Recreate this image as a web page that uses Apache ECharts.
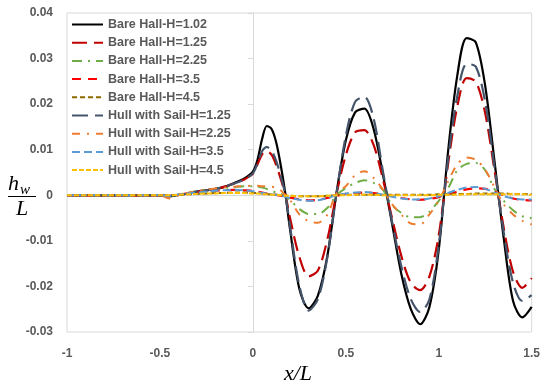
<!DOCTYPE html>
<html><head><meta charset="utf-8">
<script src="https://cdn.jsdelivr.net/npm/echarts@6/dist/echarts.min.js"></script>
<style>html,body{margin:0;padding:0;background:#fff}#c{width:543px;height:385px}</style>
</head><body><div id="c"></div>
<script>
// shared x/L positions
const X = [-1, -0.9, -0.8, -0.7, -0.6, -0.5,
  -0.45, -0.4, -0.35, -0.3, -0.25, -0.2, -0.15, -0.1, -0.05,
  0, 0.025, 0.05, 0.075, 0.1, 0.125, 0.15, 0.175, 0.2,
  0.25, 0.3, 0.35, 0.4, 0.45, 0.5, 0.55, 0.6, 0.65, 0.7, 0.75, 0.8, 0.85, 0.9, 0.95, 1.0,
  1.05, 1.1, 1.15, 1.2, 1.25, 1.3, 1.35, 1.4, 1.45, 1.5];

const bare102 = [0,0,0,0,0,0,
  -0.0002,0.0001,0.0004,0.0008,0.0011,0.0014,0.0019,0.0027,0.0036,
  0.0052,0.0078,0.0124,0.0152,0.0146,0.0117,0.0066,0.0003,-0.0075,
  -0.0205,-0.0248,-0.022,-0.0135,0.0005,0.012,0.0182,0.019,0.0145,0.0045,-0.0065,-0.0175,-0.025,-0.0283,-0.0245,-0.012,
  0.0095,0.0263,0.0345,0.0335,0.024,0.0075,-0.0095,-0.0232,-0.0268,-0.0245];
const bare125 = [0,0,0,0,0,0,
  -0.0002,0.0001,0.0004,0.0008,0.0011,0.0014,0.0019,0.0026,0.0034,
  0.0047,0.0068,0.009,0.0097,0.0089,0.0067,0.0036,0.0001,-0.005,
  -0.0135,-0.0178,-0.0165,-0.0098,0.0003,0.0088,0.0138,0.0143,0.011,0.0035,-0.0052,-0.0135,-0.0192,-0.0208,-0.0178,-0.0088,
  0.0068,0.0195,0.0257,0.0249,0.018,0.0055,-0.0072,-0.0168,-0.0203,-0.0182];
const bare225 = [0,0,0,0,0,0,
  -0.0002,0.0002,0.0005,0.0009,0.0012,0.0014,0.0016,0.0018,0.002,
  0.002,0.0019,0.0017,0.0014,0.001,0.0006,0.0003,-0.0001,-0.001,
  -0.003,-0.0041,-0.0041,-0.0028,0.0,0.0016,0.0027,0.0033,0.0027,0.0012,-0.0022,-0.0039,-0.0048,-0.0048,-0.0036,-0.0012,
  0.0015,0.0055,0.0069,0.0071,0.0055,0.0014,-0.0012,-0.0033,-0.0046,-0.005];
const bare35 = [0,0,0,0,0,0,
  -0.0001,0.0002,0.0004,0.0006,0.0008,0.001,0.0011,0.0012,0.0011,
  0.001,0.0008,0.0006,0.0004,0.0002,0.0001,-0.0001,-0.0003,-0.0005,
  -0.0009,-0.0011,-0.001,-0.0006,-0.0001,0.0003,0.0005,0.0006,0.0005,0.0002,-0.0002,-0.0006,-0.0009,-0.001,-0.0008,-0.0004,
  0.0002,0.0008,0.0013,0.0015,0.0014,0.0008,0.0,-0.0007,-0.001,-0.0011];
const bare45 = [0,0,0,0,0,0,
  0,0.0001,0.0002,0.0003,0.0004,0.0005,0.0005,0.0006,0.0006,
  0.0005,0.0005,0.0004,0.0003,0.0002,0.0001,0.0,-0.0001,-0.0001,
  -0.0002,-0.0002,-0.0002,-0.0001,0,0.0001,0.0001,0.0001,0.0001,0.0001,0.0001,0.0001,0.0001,0.0001,0.0001,0.0002,
  0.0002,0.0003,0.0003,0.0004,0.0004,0.0004,0.0004,0.0003,0.0003,0.0003];
const hull125 = [0,0,0,0,0,0,
  -0.0002,0.0001,0.0004,0.0008,0.0011,0.0014,0.0019,0.0026,0.0034,
  0.0048,0.007,0.0097,0.0106,0.0098,0.0076,0.0042,0.0001,-0.0068,
  -0.0198,-0.0253,-0.0228,-0.0138,0.0004,0.013,0.0205,0.0216,0.0168,0.0052,-0.006,-0.0158,-0.0228,-0.0256,-0.0228,-0.011,
  0.0078,0.0218,0.0288,0.0282,0.0205,0.0062,-0.0082,-0.0192,-0.0232,-0.0219];
const hull225 = [0,0,0,0,0,0,
  -0.0007,0.0,0.0005,0.0009,0.0012,0.0015,0.0017,0.0019,0.002,
  0.0021,0.0021,0.002,0.002,0.0019,0.0017,0.0011,0.0,-0.001,
  -0.0042,-0.0057,-0.006,-0.0043,0.0004,0.002,0.0044,0.0053,0.0038,0.0012,-0.002,-0.0043,-0.0062,-0.0064,-0.0042,-0.0012,
  0.003,0.0068,0.0083,0.0078,0.0056,0.0018,-0.002,-0.0042,-0.0056,-0.0064];
const hull35 = [0,0,0,0,0,0,
  -0.0001,0.0002,0.0004,0.0006,0.0008,0.001,0.0011,0.0012,0.0011,
  0.0009,0.0007,0.0005,0.0004,0.0002,0.0001,-0.0001,-0.0003,-0.0006,
  -0.001,-0.0012,-0.0011,-0.0006,0.0,0.0004,0.0006,0.0007,0.0005,0.0001,-0.0003,-0.0007,-0.0009,-0.0009,-0.0007,-0.0002,
  0.0005,0.0012,0.0017,0.0018,0.0014,0.0006,-0.0002,-0.0007,-0.0009,-0.0009];
const hull45 = [0,0,0,0,0,0,
  0,0.0001,0.0002,0.0003,0.0004,0.0004,0.0005,0.0005,0.0005,
  0.0004,0.0004,0.0003,0.0002,0.0001,0.0001,0,-0.0001,-0.0001,
  -0.0002,-0.0002,-0.0002,-0.0001,0,0,0.0001,0.0001,0.0001,0,0,0,0,0,0,0.0001,
  0.0001,0.0001,0.0002,0.0002,0.0002,0.0002,0.0002,0.0002,0.0002,0.0001];

const seriesNames = ['Bare Hall-H=1.02','Bare Hall-H=1.25','Bare Hall-H=2.25','Bare Hall-H=3.5','Bare Hall-H=4.5',
  'Hull with Sail-H=1.25','Hull with Sail-H=2.25','Hull with Sail-H=3.5','Hull with Sail-H=4.5'];
const seriesValues = [bare102, bare125, bare225, bare35, bare45, hull125, hull225, hull35, hull45];
const xTicks = [-1, -0.5, 0, 0.5, 1, 1.5];
const yTicks = [-0.03, -0.02, -0.01, 0, 0.01, 0.02, 0.03, 0.04];

const styles = [
  {color:'#000000', type:'solid', width:2.2},
  {color:'#C00000', type:[15,7], width:2.2},
  {color:'#70AD47', type:[10,6,2,6], width:2},
  {color:'#FF0000', type:[9,7], width:2.2},
  {color:'#8C6A00', type:[5,3], width:2},
  {color:'#44546A', type:[16,7], width:2.2},
  {color:'#ED7D31', type:[8,7,2,7], width:2},
  {color:'#5B9BD5', type:[8,4], width:2},
  {color:'#FFC000', type:[5,2], width:2}
];

const lbl = {color:'#595959', fontWeight:'bold', fontSize:12, fontFamily:'Liberation Sans'};

const chart = echarts.init(document.getElementById('c'), null, {renderer:'canvas'});
chart.setOption({
  animation:false,
  backgroundColor:'#fff',
  grid:{left:67, right:10, top:13, bottom:53, show:true, borderColor:'#d9d9d9', borderWidth:1, backgroundColor:'transparent'},
  legend:{
    orient:'vertical', left:71, top:18, padding:0, itemWidth:31, itemHeight:12, itemGap:5.2,
    itemStyle:{opacity:0},
    textStyle:Object.assign({}, lbl, {fontSize:12.5}),
    data:seriesNames
  },
  xAxis:[
    {type:'value', min:xTicks[0], max:xTicks[xTicks.length-1], interval:0.5, position:'bottom',
      axisLine:{show:false, onZero:false}, axisTick:{show:false}, splitLine:{show:false},
      axisLabel:Object.assign({margin:16, formatter:v=>String(v)}, lbl)},
    {type:'value', min:xTicks[0], max:xTicks[xTicks.length-1], interval:0.5, position:'bottom',
      axisLine:{show:true, onZero:true, lineStyle:{color:'#d9d9d9', width:1}}, axisTick:{show:false},
      splitLine:{show:false}, axisLabel:{show:false}}
  ],
  yAxis:[
    {type:'value', min:yTicks[0], max:yTicks[yTicks.length-1], interval:0.01, position:'left',
      axisLine:{show:false, onZero:false}, axisTick:{show:false}, splitLine:{show:false},
      axisLabel:Object.assign({margin:14, formatter:v=>String(Math.round(v*100)/100)}, lbl)},
    {type:'value', min:yTicks[0], max:yTicks[yTicks.length-1], interval:0.01, position:'left',
      axisLine:{show:true, onZero:true, lineStyle:{color:'#d9d9d9', width:1}},
      axisTick:{show:true, length:5, lineStyle:{color:'#d9d9d9'}},
      splitLine:{show:false}, axisLabel:{show:false}}
  ],
  series: seriesNames.map((n,i)=>({
    name:n, type:'line', smooth:0.3, symbol:'none', xAxisIndex:0, yAxisIndex:0,
    lineStyle:{color:styles[i].color, type:styles[i].type, width:styles[i].width},
    itemStyle:{color:styles[i].color},
    z: 2 + i,
    data: X.map((x,k)=>[x, seriesValues[i][k]])
  })),
  graphic:[
    {type:'text', style:{x:8, y:184, text:'h', font:'italic 22px "Liberation Serif"', fill:'#000', verticalAlign:'middle'}},
    {type:'text', style:{x:20, y:190, text:'w', font:'italic 15px "Liberation Serif"', fill:'#000', verticalAlign:'middle'}},
    {type:'line', shape:{x1:8, y1:196.5, x2:36, y2:196.5}, style:{stroke:'#000', lineWidth:1}},
    {type:'text', style:{x:22, y:209, text:'L', font:'italic 22px "Liberation Serif"', fill:'#000', align:'center', verticalAlign:'middle'}},
    {type:'text', style:{x:298, y:374, text:'x/L', font:'italic 22px "Liberation Serif"', fill:'#000', align:'center', verticalAlign:'middle'}}
  ]
});
</script>
</body></html>
